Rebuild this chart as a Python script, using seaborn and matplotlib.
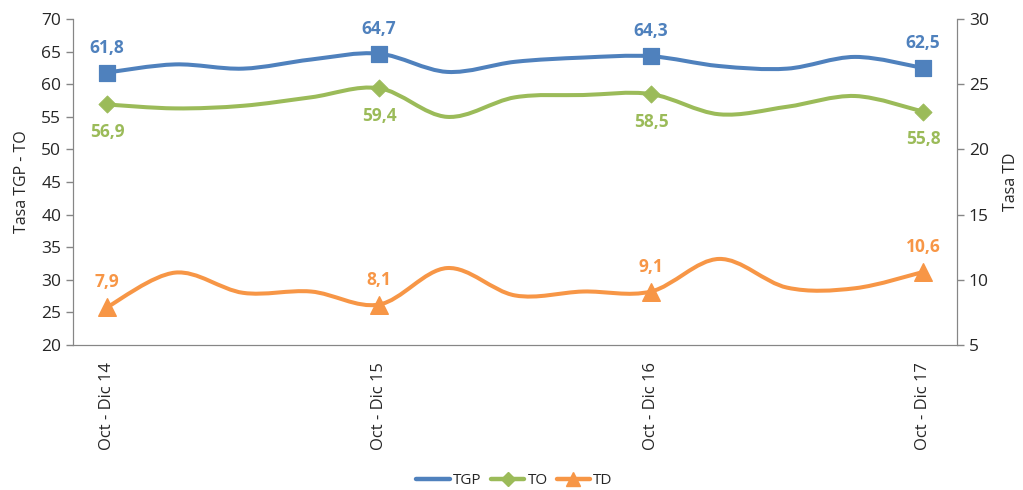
import numpy as np
import pandas as pd
import seaborn as sns
import matplotlib.pyplot as plt
from matplotlib.path import Path
from matplotlib.patches import PathPatch
from matplotlib.lines import Line2D

sns.set_style('white')
plt.rcParams['font.family'] = ['Open Sans', 'DejaVu Sans']

# quarterly data, only Oct - Dic gets a tick / marker / label
quarters = ['Oct - Dic 14', 'Ene - Mar 15', 'Abr - Jun 15', 'Jul - Sep 15',
            'Oct - Dic 15', 'Ene - Mar 16', 'Abr - Jun 16', 'Jul - Sep 16',
            'Oct - Dic 16', 'Ene - Mar 17', 'Abr - Jun 17', 'Jul - Sep 17',
            'Oct - Dic 17']
tgp = [61.8, 63.05, 62.4, 63.8, 64.7, 61.9, 63.45, 64.1, 64.3, 62.8, 62.4, 64.2, 62.5]
to = [56.9, 56.3, 56.7, 58.0, 59.4, 55.0, 58.0, 58.35, 58.5, 55.4, 56.55, 58.2, 55.8]
td = [7.9, 10.55, 9.0, 9.1, 8.1, 10.9, 8.8, 9.1, 9.1, 11.6, 9.4, 9.35, 10.6]
annual = [0, 4, 8, 12]

c_tgp, c_to, c_td = '#4F81BD', '#9BBB59', '#F79646'
grey = '#868686'

df = pd.DataFrame({'x': range(len(quarters)), 'TGP': tgp, 'TO': to, 'TD': td})
dfa = df.iloc[annual]


def smooth_line(ax, x, y, color):
    # excel style smoothed line: bezier segments through every point
    x = np.asarray(x, float)
    y = np.asarray(y, float)
    n = len(x)
    verts = [(x[0], y[0])]
    codes = [Path.MOVETO]
    for i in range(n - 1):
        p0 = np.array([x[max(i - 1, 0)], y[max(i - 1, 0)]])
        p1 = np.array([x[i], y[i]])
        p2 = np.array([x[i + 1], y[i + 1]])
        p3 = np.array([x[min(i + 2, n - 1)], y[min(i + 2, n - 1)]])
        c1 = p1 + (p2 - p0) / 6
        c2 = p2 - (p3 - p1) / 6
        verts += [tuple(c1), tuple(c2), tuple(p2)]
        codes += [Path.CURVE4] * 3
    ax.add_patch(PathPatch(Path(verts, codes), facecolor='none', edgecolor=color,
                           lw=2.9, capstyle='round', joinstyle='round', zorder=3))


fig = plt.figure(figsize=(10.23, 4.9), dpi=100)
ax = fig.add_axes([0.0714, 0.296, 0.8641, 0.665])
ax2 = ax.twinx()

smooth_line(ax, df['x'], df['TGP'], c_tgp)
smooth_line(ax, df['x'], df['TO'], c_to)
smooth_line(ax2, df['x'], df['TD'], c_td)

sns.scatterplot(data=dfa, x='x', y='TGP', ax=ax, marker='s', s=120, color=c_tgp,
                edgecolor=c_tgp, zorder=4)
sns.scatterplot(data=dfa, x='x', y='TO', ax=ax, marker='D', s=75, color=c_to,
                edgecolor=c_to, zorder=4)
sns.scatterplot(data=dfa, x='x', y='TD', ax=ax2, marker='^', s=160, color=c_td,
                edgecolor=c_td, zorder=4)

lab = dict(textcoords='offset points', ha='center', va='center',
           fontsize=12.5, fontweight='bold')
for i in annual:
    ax.annotate(f'{tgp[i]:.1f}'.replace('.', ','), (i, tgp[i]), xytext=(0, 18),
                color=c_tgp, **lab)
    ax.annotate(f'{to[i]:.1f}'.replace('.', ','), (i, to[i]), xytext=(0, -20),
                color=c_to, **lab)
    ax2.annotate(f'{td[i]:.1f}'.replace('.', ','), (i, td[i]), xytext=(0, 18),
                 color=c_td, **lab)

ax.set_xlim(-0.5, len(quarters) - 0.5)
ax.set_ylim(20, 70)
ax.set_yticks(range(20, 71, 5))
ax2.set_ylim(5, 30)
ax2.set_yticks(range(5, 31, 5))
ax.set_xticks(annual)
ax.set_xticklabels([quarters[i] for i in annual], rotation=90, fontsize=12)
ax.set_xlabel('')
ax.set_ylabel('Tasa TGP - TO', fontsize=11.5, labelpad=8)
ax2.set_ylabel('Tasa TD', fontsize=11.5, labelpad=10)

for a in (ax, ax2):
    for s in a.spines.values():
        s.set_color(grey)
    a.spines['top'].set_visible(False)
    a.tick_params(axis='y', labelsize=12.5, length=5, color=grey, width=1)
ax.tick_params(axis='x', length=0, pad=12)
ax.tick_params(axis='y', direction='out', left=True)
ax2.tick_params(axis='y', direction='out', right=True)

handles = [Line2D([], [], color=c_tgp, lw=3.2),
           Line2D([], [], color=c_to, lw=3.2, marker='D', markersize=7),
           Line2D([], [], color=c_td, lw=3.2, marker='^', markersize=10)]
fig.legend(handles, ['TGP', 'TO', 'TD'], loc='lower center', ncol=3,
           bbox_to_anchor=(0.503, -0.024), frameon=False, fontsize=11,
           handlelength=2.2, columnspacing=0.6, handletextpad=0.2)

plt.savefig('out.png', dpi=100)
